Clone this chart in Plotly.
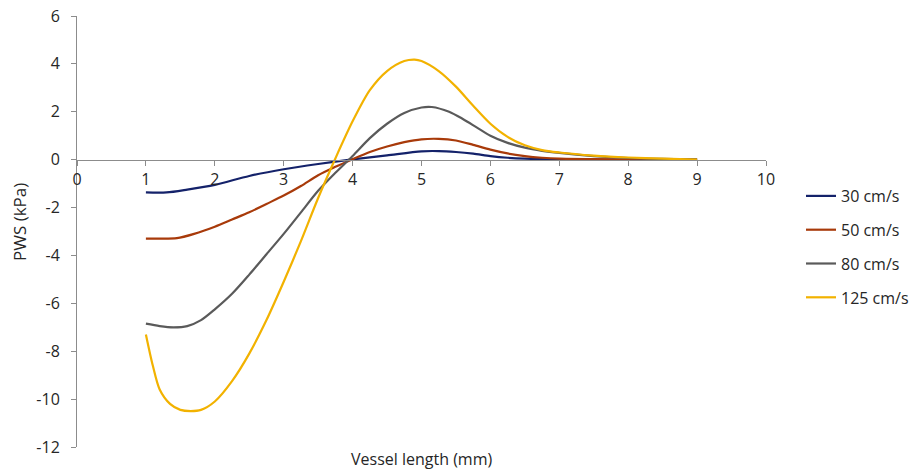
import plotly.graph_objects as go

# ---- data ----
x_125 = [1.0, 1.1, 1.2, 1.35, 1.5, 1.65, 1.8, 2.0, 2.25, 2.5, 2.75, 3.0, 3.25, 3.5, 3.75,
         4.0, 4.25, 4.5, 4.75, 4.9, 5.0, 5.25, 5.5, 5.75, 6.0, 6.25, 6.5, 6.75, 7.0, 7.5, 8.0, 8.5, 9.0]
y_125 = [-7.3, -8.6, -9.6, -10.2, -10.45, -10.5, -10.45, -10.1, -9.25, -8.1, -6.7, -5.1, -3.4, -1.6, 0.05,
         1.6, 2.9, 3.7, 4.12, 4.18, 4.12, 3.7, 3.05, 2.25, 1.5, 0.95, 0.6, 0.4, 0.3, 0.17, 0.09, 0.04, 0.0]

x_80 = [1.0, 1.2, 1.4, 1.6, 1.8, 2.0, 2.25, 2.5, 2.75, 3.0, 3.25, 3.5, 3.75, 4.0, 4.25, 4.5, 4.75,
        5.0, 5.15, 5.4, 5.6, 5.8, 6.0, 6.25, 6.5, 6.75, 7.0, 7.5, 8.0, 8.5, 9.0]
y_80 = [-6.85, -6.95, -7.0, -6.95, -6.7, -6.25, -5.6, -4.8, -3.95, -3.1, -2.2, -1.3, -0.55, 0.15, 0.9, 1.5, 1.95,
        2.18, 2.2, 2.0, 1.7, 1.35, 1.0, 0.7, 0.5, 0.37, 0.28, 0.15, 0.07, 0.03, 0.0]

x_50 = [1.0, 1.2, 1.45, 1.7, 2.0, 2.25, 2.5, 2.75, 3.0, 3.25, 3.5, 3.75, 4.0, 4.25, 4.5, 4.75,
        5.0, 5.25, 5.5, 5.75, 6.0, 6.25, 6.5, 6.75, 7.0, 7.5, 8.0, 9.0]
y_50 = [-3.3, -3.3, -3.28, -3.1, -2.8, -2.5, -2.2, -1.85, -1.5, -1.1, -0.65, -0.3, 0.02, 0.32, 0.55, 0.73,
        0.85, 0.87, 0.8, 0.62, 0.42, 0.26, 0.15, 0.08, 0.04, 0.02, 0.01, 0.0]

x_30 = [1.0, 1.3, 1.6, 2.0, 2.5, 3.0, 3.5, 4.0, 4.5, 5.0, 5.25, 5.5, 5.75, 6.0, 6.25, 6.5, 7.0, 8.0, 9.0]
y_30 = [-1.37, -1.37, -1.25, -1.05, -0.68, -0.4, -0.18, 0.01, 0.18, 0.35, 0.36, 0.32, 0.25, 0.15, 0.08, 0.04, 0.01, 0.0, 0.0]

series_names = ["30 cm/s", "50 cm/s", "80 cm/s", "125 cm/s"]
series_x = [x_30, x_50, x_80, x_125]
series_y = [y_30, y_50, y_80, y_125]
series_colors = ["#14226A", "#A83A0A", "#5A5A5A", "#F2B200"]

x_ticks = list(range(0, 11))
y_ticks = list(range(-12, 7, 2))

# ---- figure ----
L, R, T, B = 77, 154, 16, 26
W, H = 920, 473
plot_h = H - T - B
plot_w = W - L - R
zero_pos = (0 - (-12)) / 18.0

fig = go.Figure()
for i, (nm, xs, ys, c) in enumerate(zip(series_names, series_x, series_y, series_colors)):
    fig.add_trace(go.Scatter(
        x=xs, y=ys, name=nm, mode="lines",
        line=dict(color=c, width=2.2, shape="spline", smoothing=0.8),
        legendgroup=f"g{i}",
    ))

font_family = "Open Sans, Lato, sans-serif"
txt = "#262626"
fig.update_layout(
    width=W, height=H,
    margin=dict(l=L, r=R, t=T, b=B, pad=0, autoexpand=False),
    paper_bgcolor="white", plot_bgcolor="white",
    font=dict(family=font_family, size=16, color=txt),
    showlegend=True,
    legend=dict(
        x=(801 - L) / plot_w, y=(H - B - 179) / plot_h,
        xanchor="left", yanchor="top",
        font=dict(size=16, color=txt),
        tracegroupgap=10,
        bgcolor="rgba(0,0,0,0)",
    ),
    xaxis=dict(
        range=[0, 10], tickvals=x_ticks, ticktext=[str(v) for v in x_ticks],
        showgrid=False, zeroline=False, automargin=False,
        showline=True, linecolor="#8C8C8C", linewidth=1,
        ticks="outside", ticklen=5, tickcolor="#8C8C8C",
        anchor="free", position=zero_pos,
        tickfont=dict(size=16),
    ),
    yaxis=dict(
        range=[-12, 6], tickvals=y_ticks, ticktext=[str(v) for v in y_ticks],
        showgrid=False, zeroline=False, automargin=False,
        showline=True, linecolor="#8C8C8C", linewidth=1,
        ticks="outside", ticklen=5, tickcolor="#8C8C8C",
        ticklabelstandoff=8,
        tickfont=dict(size=16),
    ),
    annotations=[
        dict(text="Vessel length (mm)", xref="paper", yref="paper",
             x=0.5, y=-(472 - (H - B)) / plot_h, xanchor="center", yanchor="bottom",
             showarrow=False, font=dict(size=16, color=txt)),
        dict(text="PWS (kPa)", xref="paper", yref="paper",
             x=-(L - 20) / plot_w, y=(H - B - 222) / plot_h, xanchor="center", yanchor="middle",
             textangle=-90, showarrow=False, font=dict(size=17, color=txt)),
    ],
)

fig.write_html("out.html")
